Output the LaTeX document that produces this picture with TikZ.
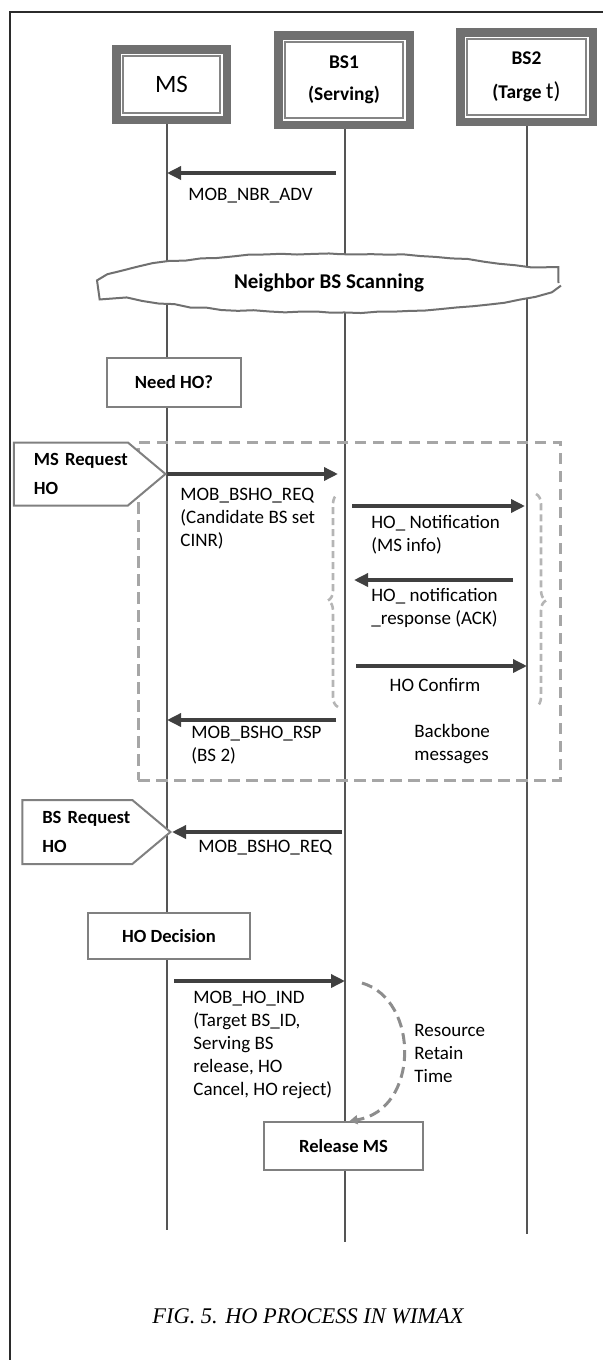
\documentclass[tikz,border=0pt]{standalone}
\usepackage{fontspec}
\setmainfont{Carlito}
\newfontfamily\capfont{Liberation Serif}
\usetikzlibrary{arrows.meta,shapes.geometric,shapes.symbols,decorations.pathmorphing,decorations.pathreplacing,backgrounds}
\definecolor{Ink}{HTML}{2B2B2B}
\definecolor{LineGray}{HTML}{555555}
\definecolor{MsgGray}{HTML}{404040}
\definecolor{FrameGray}{HTML}{707070}
\definecolor{BoxGray}{HTML}{808080}
\definecolor{DashGray}{HTML}{A6A6A6}
\definecolor{BraceGray}{HTML}{B5B5B5}

\begin{document}
\begin{tikzpicture}[x=0.5pt,y=-0.5pt,
  actor/.style={fill=white,draw=white,line width=2.5pt,preaction={draw=FrameGray,line width=11pt},postaction={draw=FrameGray!85,line width=1pt},inner sep=0pt,align=center},
  stepbox/.style={draw=BoxGray,fill=white,line width=1pt,inner sep=0pt,font=\bfseries\fontsize{9.3}{11}\selectfont},
  req/.style={shape=signal,signal to=east,signal pointer angle=80,draw=BoxGray,fill=white,line width=1pt,inner xsep=0pt,inner ysep=2pt,minimum height=31.5pt,align=left,anchor=east,font=\bfseries\fontsize{9.3}{14.5}\selectfont},
  cloudy/.style={ellipse,draw=FrameGray,fill=white,line width=1pt,inner sep=0pt,minimum width=229.5pt,minimum height=29.5pt,decorate,decoration={random steps,segment length=8pt,amplitude=0.45pt},font=\bfseries\fontsize{10.5}{12}\selectfont},
  group/.style={draw=DashGray,line width=1.5pt,dash pattern=on 5.75pt off 3.25pt,inner sep=0pt},
  bbrace/.style={draw=BraceGray,line width=1.3pt,dash pattern=on 3.5pt off 2pt,decorate,decoration={brace,amplitude=5pt}},
  life/.style={draw=LineGray,line width=1pt},
  msg/.style={draw=MsgGray,line width=1.7pt,-{Triangle[length=7pt,width=6.5pt]}},
  retain/.style={draw=FrameGray!80,line width=1.5pt,dash pattern=on 5.5pt off 3pt,-{Triangle[length=4pt,width=4.5pt]}},
  lbl/.style={inner sep=0pt,align=left,anchor=base west,font=\fontsize{9.5}{11.5}\selectfont},
  frame/.style={draw=Ink,line width=1pt}
]
\useasboundingbox (0,0) rectangle (603,1360);
\draw[frame] (603,12) -- (10,12) -- (10,1360);

% entities
\node[actor,minimum width=48.5pt,minimum height=28.5pt,font=\fontsize{12.5}{15}\selectfont] (ms) at (171.5,84.5) {MS};
\node[actor,minimum width=59pt,minimum height=38pt,font=\bfseries\fontsize{9.7}{16}\selectfont] (bs1) at (344,80) {BS1\\(Serving)};
\node[actor,minimum width=59.5pt,minimum height=38pt,font=\bfseries\fontsize{9.7}{17}\selectfont] (bs2) at (526.5,77) {BS2\\(Targe {\mdseries\fontsize{11.5}{17}\selectfont t)}};
\coordinate (msend) at (167,1230);
\coordinate (bs1end) at (345,1242);
\coordinate (bs2end) at (527,1234);

\begin{scope}[on background layer]
\draw[life] (ms.south -| msend) -- (msend);
\draw[life] (bs1.south -| bs1end) -- (bs1end);
\draw[life] (bs2.south -| bs2end) -- (bs2end);
\end{scope}

\draw[msg] ([xshift=-4.5pt]bs1end |- 0,173) -- (msend |- 0,173);
\node[lbl] (lnbr) at (188,200) {MOB\_NBR\_ADV};

\pgfmathsetseed{7}
\node[cloudy] (scan) at (329,283) {Neighbor BS Scanning};
\node[stepbox,minimum width=67pt,minimum height=24.5pt] (need) at (174,382.5) {Need HO?};

% MS initiated
\node[group,minimum width=211pt,minimum height=169pt] (bb) at (349,611) {};
\draw[bbrace] (338,707) -- (338,494);
\draw[bbrace] (536,494) -- (536,707);
\node[req,text width=57pt] (msreq) at (msend |- 0,474) {\hspace*{10pt}MS Request\\\hspace*{10pt}HO};
\draw[msg] (msreq.east) -- ([xshift=-3.5pt]bs1end |- msreq.east);
\node[lbl] (lreq) at (180,546) {MOB\_BSHO\_REQ\\(Candidate BS set\\CINR)};
\draw[msg] ([xshift=3.5pt]bs1end |- 0,506) -- ([xshift=-1pt]bs2end |- 0,506);
\node[lbl] (lnotif) at (371,551) {HO\_ Notification\\(MS info)};
\draw[msg] ([xshift=-7pt]bs2end |- 0,580) -- ([xshift=4.5pt]bs1end |- 0,580);
\node[lbl] (lresp) at (371,624) {HO\_ notification\\\_response (ACK)};
\draw[msg] ([xshift=5.5pt]bs1end |- 0,666) -- (bs2end |- 0,666);
\node[lbl,anchor=base] (lconf) at (435,691) {HO Confirm};
\draw[msg] ([xshift=-4.5pt]bs1end |- 0,720) -- (msend |- 0,720);
\node[lbl] (lrsp) at (191,761) {MOB\_BSHO\_RSP\\(BS 2)};
\node[lbl] (lbone) at (414,760) {Backbone\\messages};

% BS initiated
\node[req,text width=55pt,minimum height=32pt] (bsreq) at (172,832) {\hspace*{10pt}BS Request\\\hspace*{10pt}HO};
\draw[msg] ([xshift=-1.5pt]bs1end |- bsreq.east) -- (bsreq.east);
\node[lbl] (lbsreq) at (198,852) {MOB\_BSHO\_REQ};

\node[stepbox,minimum width=81pt,minimum height=23pt] (dec) at (169,936) {HO Decision};
\draw[msg] ([xshift=3.5pt]msend |- 0,981) -- (bs1end |- 0,981);
\node[lbl] (lind) at (193,1095) {MOB\_HO\_IND\\(Target BS\_ID,\\Serving BS\\release, HO\\Cancel, HO reject)};
\node[stepbox,minimum width=79.5pt,minimum height=24pt] (rel) at (343.5,1146) {Release MS};
\draw[retain] ([xshift=8.5pt]bs1end |- 0,983) .. controls +(58,17) and +(70,-11) .. ([xshift=3pt]rel.north);
\node[lbl] (lretain) at (414,1082) {Resource\\Retain\\Time};

\node[font=\capfont\itshape\fontsize{11.2}{13}\selectfont] (cap) at (308,1316) {FIG. 5. HO PROCESS IN WIMAX};
\end{tikzpicture}
\end{document}
